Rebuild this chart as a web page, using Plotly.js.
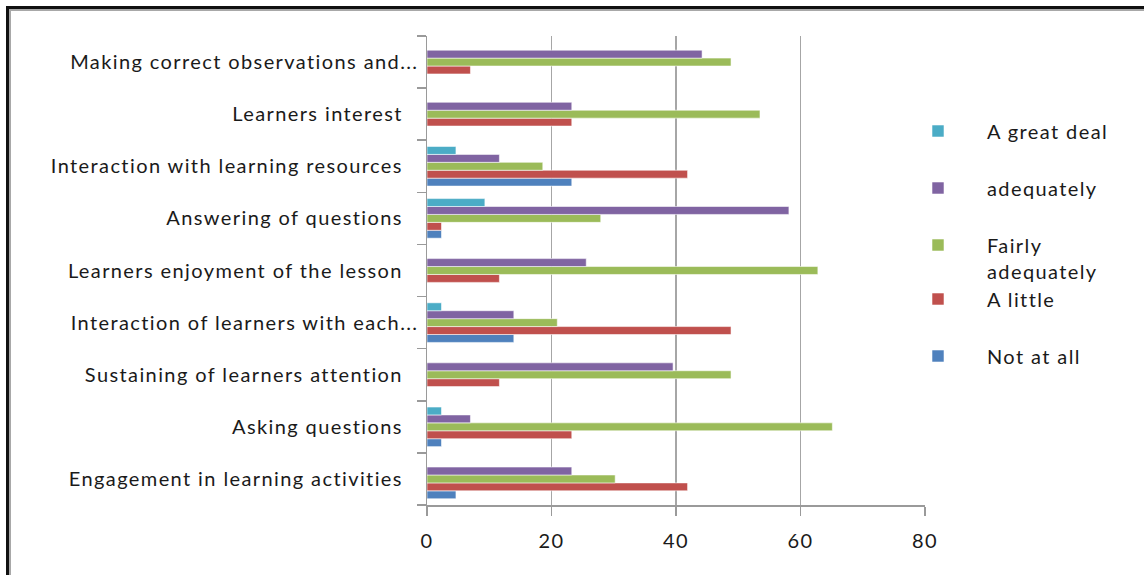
<!DOCTYPE html>
<html>
<head>
<meta charset="utf-8">
<script src="https://cdn.plot.ly/plotly-3.0.1.min.js"></script>
<style>
  html, body { margin: 0; padding: 0; background: #fff; }
  #wrap { position: relative; width: 1144px; height: 575px; overflow: hidden; }
  #chart { position: absolute; left: 0; top: 0; width: 1144px; height: 575px; }
  #chart text { letter-spacing: 1.4px; }
  /* legend boxes are sized without the extra tracking, so let their text overflow */
  #chart g.scrollbox { clip-path: none !important; }
  #frame {
    position: absolute; left: 6px; top: 6px; width: 1150px; height: 580px;
    border-top: 3px solid #111; border-left: 3px solid #111;
    box-shadow: inset 2px 2px 0 #a8a8a8; pointer-events: none;
  }
</style>
</head>
<body>
<div id="wrap">
  <div id="chart"></div>
  <div id="frame"></div>
</div>
<script>
// Aspects of the lesson (bottom to top on the chart)
const categories = [
  "Engagement in learning activities",
  "Asking questions",
  "Sustaining of learners attention",
  "Interaction of learners with each...",
  "Learners enjoyment of the lesson",
  "Answering of questions",
  "Interaction with learning resources",
  "Learners interest",
  "Making correct observations and..."
];

// Percentage of responses per rating, same order as categories
const notAtAll         = [4.65, 2.33, 0,     13.95, 0,     2.33,  23.26, 0,     0];
const aLittle          = [41.86, 23.26, 11.63, 48.84, 11.63, 2.33, 41.86, 23.26, 6.98];
const fairlyAdequately = [30.23, 65.12, 48.84, 20.93, 62.79, 27.91, 18.6, 53.49, 48.84];
const adequately       = [23.26, 6.98, 39.53, 13.95, 25.58, 58.14, 11.63, 23.26, 44.19];
const aGreatDeal       = [0,     2.33, 0,     2.33,  0,     9.3,   4.65,  0,     0];

const seriesNames = ["Not at all", "A little", "Fairly<br>adequately", "adequately", "A great deal"];
const seriesValues = [notAtAll, aLittle, fairlyAdequately, adequately, aGreatDeal];
const seriesColors = ["#4F81BD", "#C0504D", "#9BBB59", "#8064A2", "#4BACC6"];
const legendIds = ["legend5", "legend4", "legend3", "legend2", "legend"];

const xTicks = [0, 20, 40, 60, 80];

const FONT = "Lato, 'Open Sans', sans-serif";
const FONT_SIZE = 20;

// Full labels keep a little trailing room; shortened ones run up to the ticks
const yTickText = categories.map(c => c.endsWith("...") ? c : c + "\u2009\u2009\u2009\u2009");

const traces = seriesValues.map((vals, i) => ({
  type: "bar",
  orientation: "h",
  name: seriesNames[i],
  x: vals,
  y: categories,
  legend: legendIds[i],
  marker: {
    color: seriesColors[i],
    line: { color: "rgba(255,255,255,0.55)", width: 1 }
  },
  hoverinfo: "x+name"
}));

// Plot-area geometry helpers for placing the legend entries
const plotLeft = 427, plotRight = 925, plotTop = 36, plotBottom = 505;
const px2x = p => (p - plotLeft) / (plotRight - plotLeft);
const py2y = p => (plotBottom - p) / (plotBottom - plotTop);

function legendAt(yPix) {
  return {
    x: px2x(889), xanchor: "left",
    y: py2y(yPix), yanchor: "middle",
    bgcolor: "rgba(0,0,0,0)",
    font: { family: FONT, size: FONT_SIZE, color: "#1a1a1a" },
    valign: "top",
    itemwidth: 88
  };
}

const layout = {
  width: 1144, height: 575,
  margin: { l: plotLeft, r: 1144 - plotRight, t: plotTop, b: 575 - plotBottom, pad: 0 },
  paper_bgcolor: "#ffffff",
  plot_bgcolor: "#ffffff",
  barmode: "group",
  bargap: 0.24,
  bargroupgap: 0,
  font: { family: FONT, size: FONT_SIZE, color: "#1a1a1a" },
  xaxis: {
    range: [0, 80],
    tickvals: xTicks,
    ticktext: xTicks.map(String),
    showgrid: true,
    gridcolor: "#a6a6a6",
    gridwidth: 1.5,
    zeroline: false,
    showline: true,
    linecolor: "#9a9a9a",
    linewidth: 1.5,
    ticks: "outside",
    ticklen: 9,
    tickwidth: 1.5,
    tickcolor: "#9a9a9a",
    ticklabelstandoff: 8,
    tickfont: { family: FONT, size: FONT_SIZE, color: "#1a1a1a" },
    fixedrange: true
  },
  yaxis: {
    type: "category",
    categoryorder: "array",
    categoryarray: categories,
    tickvals: categories,
    ticktext: yTickText,
    showgrid: false,
    zeroline: false,
    showline: true,
    linecolor: "#9a9a9a",
    linewidth: 1.5,
    ticks: "outside",
    tickson: "boundaries",
    ticklen: 9,
    tickwidth: 1.5,
    tickcolor: "#9a9a9a",
    ticklabelstandoff: 3,
    tickfont: { family: FONT, size: FONT_SIZE, color: "#1a1a1a" },
    fixedrange: true
  },
  showlegend: true,
  legend: legendAt(131),
  legend2: legendAt(188),
  legend3: legendAt(258),
  legend4: legendAt(299),
  legend5: legendAt(356)
};

Plotly.newPlot("chart", traces, layout, { displayModeBar: false, staticPlot: true });
</script>
</body>
</html>
